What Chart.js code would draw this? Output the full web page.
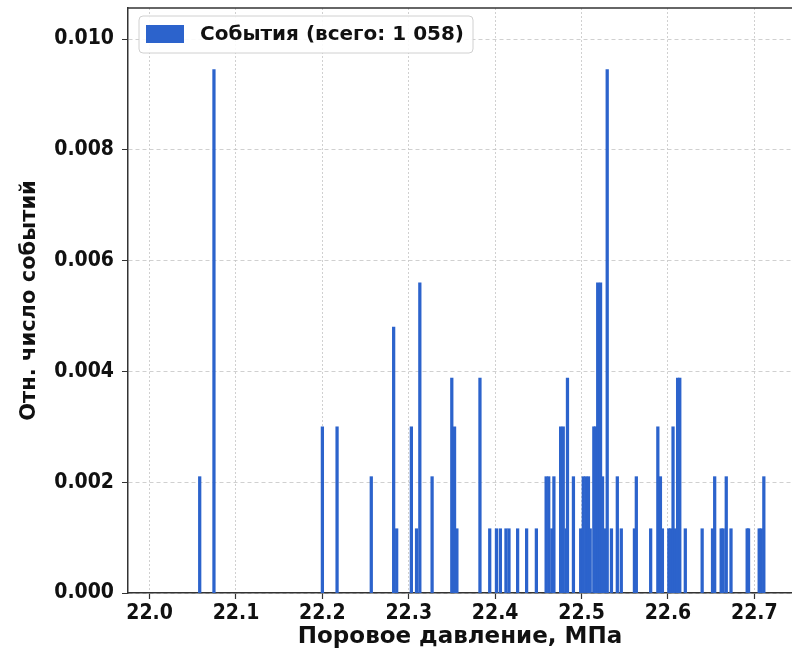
<!DOCTYPE html>
<html>
<head>
<meta charset="utf-8">
<script src="https://cdn.jsdelivr.net/npm/chart.js@4"></script>
<style>
  html, body { margin: 0; padding: 0; background: #fff; }
  #wrap { position: relative; width: 792px; height: 654px; }
</style>
</head>
<body>
<div id="wrap"><canvas id="hist" width="792" height="654"></canvas></div>
<script>
  // pressure bins (MPa) and relative event counts
  var pressure = [
    22.058, 22.0745, 22.200, 22.217, 22.2566, 22.2825, 22.286, 22.303, 22.309, 22.3128,
    22.327, 22.3498, 22.353, 22.3557, 22.3824, 22.3937, 22.4015, 22.406, 22.4125, 22.416,
    22.426, 22.4364, 22.4477, 22.459, 22.462, 22.4656, 22.468, 22.4758, 22.4788, 22.482,
    22.4837, 22.4906, 22.499, 22.502, 22.505, 22.508, 22.510, 22.5142, 22.516, 22.5187,
    22.522, 22.5243, 22.527, 22.5297, 22.5346, 22.5414, 22.546, 22.5612, 22.5634, 22.580,
    22.5883, 22.5913, 22.5936, 22.601, 22.603, 22.6059, 22.6078, 22.6112, 22.6137, 22.6201,
    22.6396, 22.6516, 22.6541, 22.6616, 22.6639, 22.6675, 22.673, 22.6917, 22.6933, 22.7056,
    22.708, 22.711
  ];
  var relCount = [
    0.0021, 0.00945, 0.0030, 0.0030, 0.0021, 0.0048, 0.00116, 0.0030, 0.00116, 0.0056,
    0.0021, 0.00388, 0.0030, 0.00116, 0.00388, 0.00116, 0.00116, 0.00116, 0.00116, 0.00116,
    0.00116, 0.00116, 0.00116, 0.0021, 0.0021, 0.00116, 0.0021, 0.0030, 0.0030, 0.00116,
    0.00388, 0.0021, 0.00116, 0.0021, 0.0021, 0.0021, 0.00116, 0.0030, 0.0030, 0.0056,
    0.0056, 0.0021, 0.00116, 0.00945, 0.00116, 0.0021, 0.00116, 0.00116, 0.0021, 0.00116,
    0.0030, 0.0021, 0.00116, 0.00116, 0.00116, 0.0030, 0.00116, 0.00388, 0.00388, 0.00116,
    0.00116, 0.00116, 0.0021, 0.00116, 0.00116, 0.0021, 0.00116, 0.00116, 0.00116, 0.00116,
    0.00116, 0.0021
  ];
  var xTicks = [22.0, 22.1, 22.2, 22.3, 22.4, 22.5, 22.6, 22.7];
  var yTicks = [0, 0.002, 0.004, 0.006, 0.008, 0.010];
  var seriesLabel = 'События (всего: 1 058)';
  var xTitle = 'Поровое давление, МПа';
  var yTitle = 'Отн. число событий';

  var barColor = '#2c63cc';
  var axisColor = '#333333';
  var gridColor = '#c4c4c4';
  var fontCond = "'DejaVu Sans Condensed', 'DejaVu Sans', sans-serif";
  var fontWide = "'DejaVu Sans', sans-serif";

  var points = pressure.map(function (p, i) { return { x: p, y: relCount[i] }; });

  // top frame line + boxed legend like matplotlib's
  var framePlugin = {
    id: 'frameAndLegend',
    afterDraw: function (chart) {
      var c = chart.ctx;
      var a = chart.chartArea;
      c.save();
      c.strokeStyle = axisColor;
      c.lineWidth = 1.5;
      c.beginPath();
      c.moveTo(a.left, a.top);
      c.lineTo(a.right, a.top);
      c.stroke();

      // legend box
      var bx = 139, by = 16, bw = 334, bh = 37;
      c.beginPath();
      c.roundRect(bx, by, bw, bh, 4);
      c.fillStyle = 'rgba(255,255,255,0.9)';
      c.fill();
      c.strokeStyle = '#d0d0d0';
      c.lineWidth = 1;
      c.stroke();
      c.fillStyle = barColor;
      c.fillRect(146, 25, 38, 18);
      c.fillStyle = '#111';
      c.font = 'bold 20px ' + fontWide;
      c.textBaseline = 'middle';
      c.textAlign = 'left';
      c.fillText(seriesLabel, 200, 35);
      c.restore();
    }
  };

  new Chart(document.getElementById('hist'), {
    type: 'bar',
    data: {
      datasets: [{
        label: seriesLabel,
        data: points,
        backgroundColor: barColor,
        borderWidth: 0,
        barThickness: 2.6,
        grouped: false
      }]
    },
    options: {
      responsive: false,
      animation: false,
      layout: { padding: { top: 8, left: 0, right: 0, bottom: 0 } },
      plugins: { legend: { display: false }, tooltip: { enabled: false } },
      scales: {
        x: {
          type: 'linear',
          offset: false,
          min: 21.975,
          max: 22.7436,
          afterBuildTicks: function (s) { s.ticks = xTicks.map(function (v) { return { value: v }; }); },
          afterFit: function (s) { s.height = 61; s.paddingLeft = 0; s.paddingRight = 0; },
          ticks: {
            color: '#111',
            padding: 2,
            autoSkip: false,
            maxRotation: 0,
            font: { family: fontCond, size: 21, weight: 'bold' },
            callback: function (v) { return Number(v).toFixed(1); }
          },
          grid: {
            offset: false,
            color: gridColor,
            lineWidth: 0.8,
            tickLength: 6,
            tickColor: axisColor,
            tickWidth: 1.2,
            tickBorderDash: [1, 0]
          },
          border: { color: axisColor, width: 1.5, dash: [2, 2] },
          title: {
            display: true,
            text: xTitle,
            color: '#111',
            font: { family: fontWide, size: 23, weight: 'bold' },
            padding: { top: 0, bottom: 3 }
          }
        },
        y: {
          min: 0,
          max: 0.01056,
          afterBuildTicks: function (s) { s.ticks = yTicks.map(function (v) { return { value: v }; }); },
          afterFit: function (s) { s.width = 128; s.paddingTop = 0; s.paddingBottom = 0; },
          ticks: {
            color: '#111',
            padding: 8,
            font: { family: fontCond, size: 21, weight: 'bold' },
            callback: function (v) { return Number(v).toFixed(3); }
          },
          grid: {
            color: gridColor,
            lineWidth: 0.8,
            tickLength: 6,
            tickColor: axisColor,
            tickWidth: 1.2,
            tickBorderDash: [1, 0]
          },
          border: { color: axisColor, width: 1.5, dash: [4, 3] },
          title: {
            display: true,
            text: yTitle,
            color: '#111',
            font: { family: fontWide, size: 21, weight: 'bold' },
            padding: { top: 17, bottom: 0 }
          }
        }
      }
    },
    plugins: [framePlugin]
  });
</script>
</body>
</html>
